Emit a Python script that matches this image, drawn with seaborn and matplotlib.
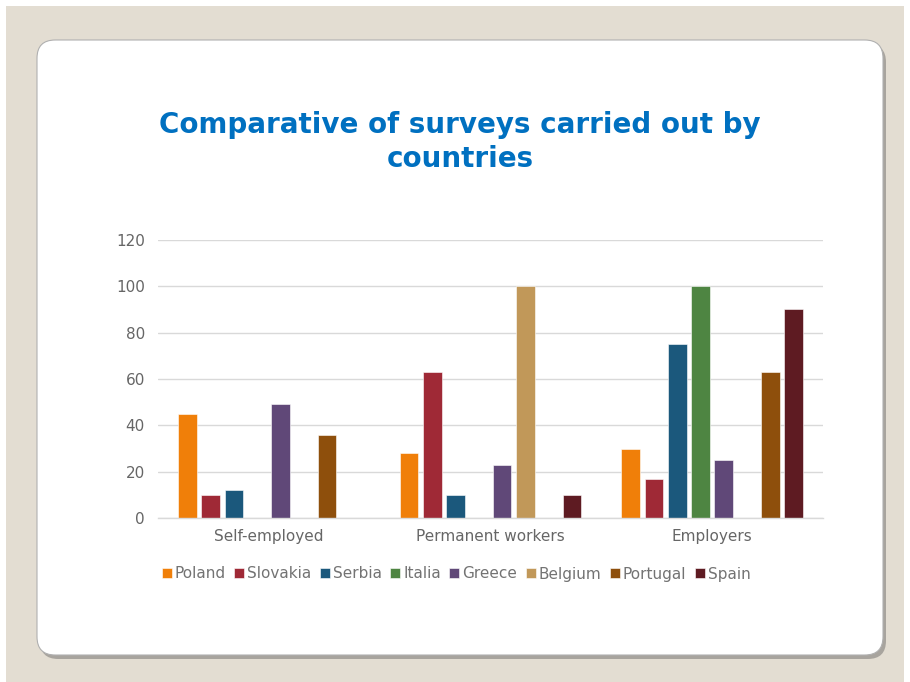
import matplotlib
matplotlib.use("Agg")
import matplotlib.pyplot as plt
from matplotlib.patches import FancyBboxPatch, Rectangle
import seaborn as sns
import pandas as pd

categories = ["Self-employed", "Permanent workers", "Employers"]
countries = ["Poland", "Slovakia", "Serbia", "Italia", "Greece", "Belgium", "Portugal", "Spain"]
values = {
    "Poland":   [45, 28, 30],
    "Slovakia": [10, 63, 17],
    "Serbia":   [12, 10, 75],
    "Italia":   [0, 0, 100],
    "Greece":   [49, 23, 25],
    "Belgium":  [0, 100, 0],
    "Portugal": [36, 0, 63],
    "Spain":    [0, 10, 90],
}
colors = ["#F07F09", "#9F2936", "#1B587C", "#4E8542", "#604878", "#C19859", "#8E4F0C", "#5E1B22"]
yticks = [0, 20, 40, 60, 80, 100, 120]

rows = []
for c in countries:
    for cat, v in zip(categories, values[c]):
        rows.append({"category": cat, "country": c, "value": v})
df = pd.DataFrame(rows)

sns.set_theme(style="white")
plt.rcParams['font.family'] = ['DejaVu Sans']

fig = plt.figure(figsize=(9.1, 6.82), dpi=100)
fig.patch.set_facecolor("white")
W, H = 910, 682
# beige background
fig.patches.append(Rectangle((6 / W, 0), 1 - 12 / W, 1 - 6 / H, transform=fig.transFigure,
                             facecolor="#E3DDD2", edgecolor="none", zorder=0))
# shadow
fig.patches.append(FancyBboxPatch((40 / W, 1 - 659 / H), 846 / W, 615 / H,
                                  boxstyle="round,pad=0,rounding_size=0.02",
                                  transform=fig.transFigure, facecolor="#A8A49E",
                                  edgecolor="none", zorder=0.5, mutation_aspect=W / H))
# white card
fig.patches.append(FancyBboxPatch((37 / W, 1 - 655 / H), 846 / W, 615 / H,
                                  boxstyle="round,pad=0,rounding_size=0.02",
                                  transform=fig.transFigure, facecolor="white",
                                  edgecolor="#B0B0B0", linewidth=0.8, zorder=1, mutation_aspect=W / H))

ax = fig.add_axes([158 / W, 1 - 518 / H, 665 / W, 278 / H])
ax.set_zorder(2)
ax.patch.set_alpha(0)
sns.barplot(data=df, x="category", y="value", hue="country", hue_order=countries,
            palette=colors, width=0.84, gap=0.2, ax=ax, saturation=1, legend=True,
            edgecolor="#FFFFFF", linewidth=0.4)
ax.set_ylim(0, 120)
ax.set_yticks(yticks)
ax.set_xlim(-0.5, 2.5)
ax.yaxis.grid(True, color="#D9D9D9", linewidth=1)
ax.set_axisbelow(True)
for s in ["top", "right", "left"]:
    ax.spines[s].set_visible(False)
ax.spines["bottom"].set_color("#D9D9D9")
ax.spines["bottom"].set_linewidth(1)
ax.set_xlabel("")
ax.set_ylabel("")
ax.tick_params(axis="both", length=0, labelsize=11, labelcolor="#666666")
ax.tick_params(axis="y", pad=9.5)
ax.tick_params(axis="x", pad=8)

handles, labels = ax.get_legend_handles_labels()
ax.get_legend().remove()
fig.legend(handles, labels, loc="center", bbox_to_anchor=(456 / W, 1 - 574 / H), ncol=8,
           frameon=False, fontsize=11, labelcolor="#737373", handlelength=0.65, handleheight=0.65,
           handletextpad=0.2, columnspacing=0.55)

fig.text(460 / W, 1 - 142 / H, "Comparative of surveys carried out by\ncountries",
         ha="center", va="center", fontsize=20, fontweight="bold", color="#0070C0",
         linespacing=1.3, zorder=3)

fig.savefig("out.png", dpi=100, facecolor=fig.get_facecolor())
